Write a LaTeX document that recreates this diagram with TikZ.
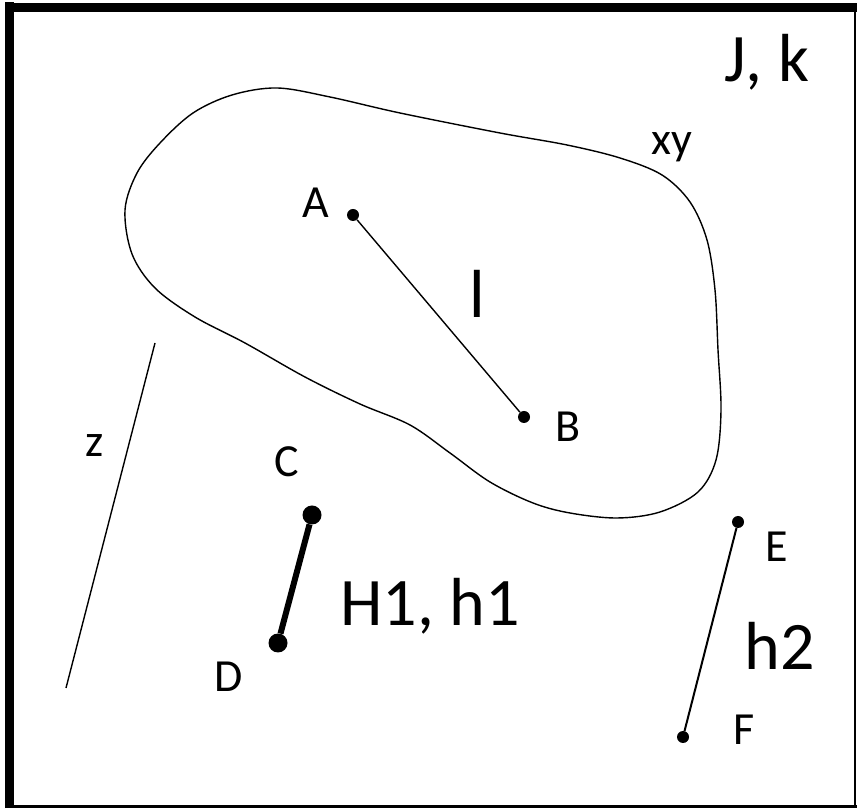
\documentclass[tikz,border=0pt]{standalone}
\usepackage{fontspec}
\setmainfont{Carlito}
\begin{document}
\begin{tikzpicture}[x=1pt,y=1pt]
\tikzset{
  dot/.style={circle,fill=black,inner sep=0pt,minimum size=12pt},
  bigdot/.style={circle,fill=black,inner sep=0pt,minimum size=19pt},
  lbl/.style={inner sep=0pt,anchor=base,font=\fontsize{46}{50}\selectfont},
  biglbl/.style={inner sep=0pt,anchor=base,font=\fontsize{68}{72}\selectfont},
  thinline/.style={line width=1.4pt},
}
\useasboundingbox (0,0) rectangle (858,810);
% frame
\draw[line width=9pt] (9.5,2) -- (9.5,807.5);
\draw[line width=9pt] (5,802.5) -- (857,802.5);
\draw[line width=2pt] (855,807) -- (855,2);
\draw[line width=3pt] (5,3.5) -- (857,3.5);
% blob
\draw[thinline] plot[smooth cycle, tension=0.55] coordinates {
 (277,722) (330,713) (400,697) (500,677) (567,665) (620,652)
 (662,635) (690,608) (707,570) (715,520) (718,460) (721,400)
 (716,350) (698,318) (660,298) (617,292) (570,297) (533,307)
 (490,328) (450,357) (410,385) (360,406) (305,433)
 (245,467) (195,493) (155,522) (132,556) (125,600) (137,637)
 (160,667) (193,697) (232,715)};
% dots
\node[dot] (A) at (353,595) {};
\node[dot] (B) at (524,393) {};
\node[bigdot] (C) at (312,295) {};
\node[bigdot] (D) at (278,167) {};
\node[dot] (E) at (738,288) {};
\node[dot] (F) at (683,73) {};
\coordinate (z1) at (155,467);
\coordinate (z2) at (66,122);
% connectors
\draw[thinline] (A) -- (B);
\draw[line width=6pt] (C) -- (D);
\draw[line width=2pt] (E) -- (F);
\draw[thinline] (z1) -- (z2);
% labels
\node[lbl] (lA) at (316,592) {A};
\node[lbl] (lB) at (568,368) {B};
\node[lbl] (lC) at (287,333) {C};
\node[lbl] (lD) at (229,118) {D};
\node[lbl] (lE) at (777,248) {E};
\node[lbl] (lF) at (744,65) {F};
\node[lbl] (lxy) at (672,655) {xy};
\node[lbl] (lz) at (95,353) {z};
\node[biglbl] (ll) at (477,492) {l};
\node[biglbl] (lH) at (430,184) {H1, h1};
\node[biglbl] (lh2) at (780,140) {h2};
\node[biglbl] (lJ) at (767,728) {J, k};
\end{tikzpicture}
\end{document}
